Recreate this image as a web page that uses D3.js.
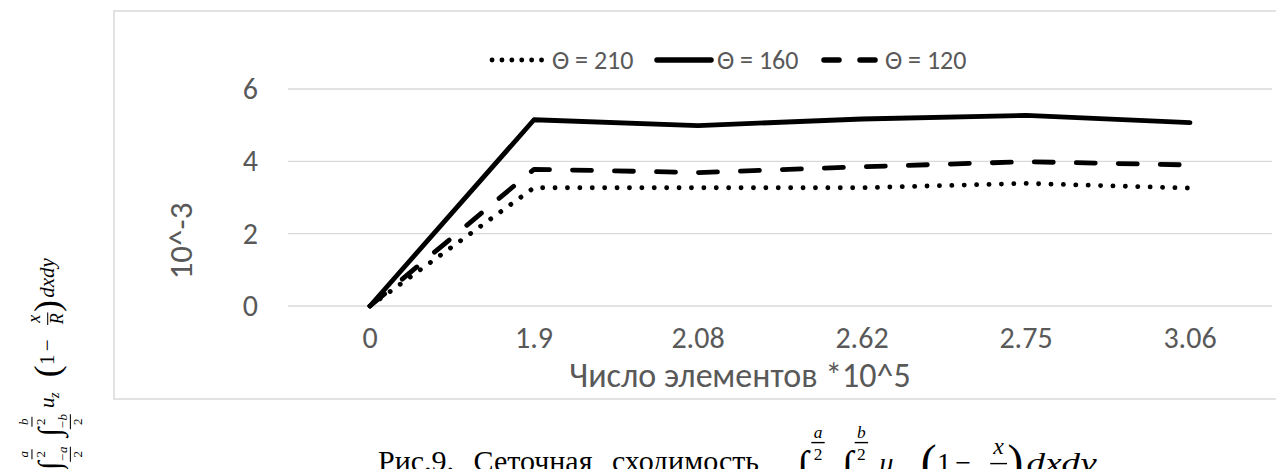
<!DOCTYPE html>
<html>
<head>
<meta charset="utf-8">
<script src="https://cdn.jsdelivr.net/npm/d3@7"></script>
<style>
  html, body { margin: 0; padding: 0; background: #fff; }
  svg { display: block; }
</style>
</head>
<body>
<svg id="chart" width="1276" height="469"></svg>
<script>
// Mesh size (number of elements, x10^5) used as category labels
const categories = ["0", "1.9", "2.08", "2.62", "2.75", "3.06"];
// Integral value (x10^-3) for each temperature
const theta210 = [0, 3.27, 3.27, 3.27, 3.39, 3.26];
const theta160 = [0, 5.15, 4.99, 5.17, 5.27, 5.07];
const theta120 = [0, 3.78, 3.69, 3.85, 3.99, 3.90];
const seriesNames = ["Θ = 210", "Θ = 160", "Θ = 120"];
const yTicks = [0, 2, 4, 6];

const svg = d3.select("#chart");
const sans = "Calibri, Carlito, 'Open Sans', 'Noto Sans', sans-serif";
const serif = "'Liberation Serif', 'Times New Roman', serif";
const textGrey = "#595959";
const gridGrey = "#d9d9d9";

// chart frame
svg.append("rect")
  .attr("x", 114).attr("y", 11)
  .attr("width", 1180).attr("height", 388)
  .attr("fill", "none").attr("stroke", gridGrey).attr("stroke-width", 1.5);

const x = d3.scaleBand().domain(categories).range([288, 1272]).padding(0);
const y = d3.scaleLinear().domain([0, 6]).range([306, 89]);
const cx = d => x(d) + x.bandwidth() / 2;

// horizontal gridlines
svg.append("g")
  .selectAll("line").data(yTicks).join("line")
  .attr("x1", 288).attr("x2", 1272)
  .attr("y1", d => y(d)).attr("y2", d => y(d))
  .attr("stroke", gridGrey).attr("stroke-width", 1.3);

// y axis tick labels
const yAxis = svg.append("g")
  .attr("transform", "translate(258,0)")
  .call(d3.axisLeft(y).tickValues(yTicks).tickFormat(d3.format("d")).tickSize(0).tickPadding(0));
yAxis.select(".domain").remove();
yAxis.selectAll("text")
  .attr("font-family", sans).attr("font-size", 30).attr("fill", textGrey);

// x axis tick labels
const xAxis = svg.append("g")
  .attr("transform", "translate(0,327)")
  .call(d3.axisBottom(x).tickSize(0).tickPadding(0));
xAxis.select(".domain").remove();
xAxis.selectAll("text")
  .attr("font-family", sans).attr("font-size", 30).attr("fill", textGrey);

// axis titles
svg.append("text")
  .attr("x", 740).attr("y", 387)
  .attr("text-anchor", "middle")
  .attr("font-family", sans).attr("font-size", 34).attr("fill", textGrey)
  .text("Число элементов *10^5");

svg.append("text")
  .attr("transform", "translate(192,241) rotate(-90)")
  .attr("text-anchor", "middle")
  .attr("font-family", sans).attr("font-size", 33).attr("fill", textGrey)
  .text("10^-3");

// series lines
const line = d3.line().x((d, i) => cx(categories[i])).y(d => y(d));
const styles = [
  { data: theta210, dash: "0.1 12.3", width: 4.8 },
  { data: theta160, dash: null, width: 4.8 },
  { data: theta120, dash: "19 23", width: 4.8 }
];
styles.forEach(s => {
  svg.append("path")
    .datum(s.data)
    .attr("d", line)
    .attr("fill", "none")
    .attr("stroke", "#000")
    .attr("stroke-width", s.width)
    .attr("stroke-linecap", "round")
    .attr("stroke-linejoin", "round")
    .attr("stroke-dasharray", s.dash);
});

// legend
const legendItems = [
  { name: seriesNames[0], x0: 492, x1: 543, text: 552, dash: "0.1 9.8", width: 4.8 },
  { name: seriesNames[1], x0: 657, x1: 711, text: 717, dash: null, width: 5.5 },
  { name: seriesNames[2], x0: 824, x1: 880, text: 885, dash: "15 21", width: 5.5 }
];
const legend = svg.append("g");
legendItems.forEach(it => {
  legend.append("line")
    .attr("x1", it.x0).attr("x2", it.x1)
    .attr("y1", 60).attr("y2", 60)
    .attr("stroke", "#000").attr("stroke-width", it.width)
    .attr("stroke-linecap", "round")
    .attr("stroke-dasharray", it.dash);
  legend.append("text")
    .attr("x", it.text).attr("y", 69)
    .attr("font-family", sans).attr("font-size", 26).attr("fill", textGrey)
    .text(it.name);
});

// integral expression, drawn in local units of s (baseline at y = 0)
function formula(g, s, tailLength) {
  const t = (x0, y0, str, size, opts = {}) => g.append("text")
    .attr("x", x0 * s).attr("y", y0 * s)
    .attr("font-family", serif)
    .attr("font-size", size * s)
    .attr("font-style", opts.italic ? "italic" : "normal")
    .attr("text-anchor", opts.anchor || "start")
    .attr("fill", "#000")
    .text(str);
  const bar = (xc, y0, w) => g.append("line")
    .attr("x1", (xc - w / 2) * s).attr("x2", (xc + w / 2) * s)
    .attr("y1", y0 * s).attr("y2", y0 * s)
    .attr("stroke", "#000").attr("stroke-width", Math.max(1, s * 0.05));
  const limits = (xc, v) => {
    t(xc, -1.23, v, 0.62, { italic: true, anchor: "middle" });
    bar(xc, -1.05, 0.48);
    t(xc, -0.42, "2", 0.62, { anchor: "middle" });
    t(xc, 0.62, "−" + v, 0.62, { italic: true, anchor: "middle" });
    bar(xc, 0.78, 0.72);
    t(xc, 1.35, "2", 0.62, { anchor: "middle" });
  };
  t(0, 0.28, "∫", 1.5);
  limits(0.75, "a");
  t(1.6, 0.28, "∫", 1.5);
  limits(2.3, "b");
  t(2.95, 0, "u", 1, { italic: true });
  t(3.42, 0.25, "z", 0.7, { italic: true });
  t(4.42, 0.22, "(", 1.7);
  t(5.0, 0, "1", 1);
  t(5.65, 0, "−", 1);
  t(7.2, -0.66, "x", 0.85, { italic: true, anchor: "middle" });
  bar(7.2, -0.3, 0.6);
  t(7.2, 0.45, "R", 0.85, { italic: true, anchor: "middle" });
  t(7.52, 0.22, ")", 1.7);
  const tail = t(8.2, 0, "dxdy", 1, { italic: true });
  if (tailLength) tail.attr("textLength", tailLength * s).attr("lengthAdjust", "spacingAndGlyphs");
}

// rotated copy on the left margin
formula(svg.append("g").attr("transform", "translate(54,470) rotate(-90)"), 21);

// figure caption
svg.append("text")
  .attr("x", 378).attr("y", 471)
  .attr("font-family", serif).attr("font-size", 30).attr("fill", "#000")
  .attr("word-spacing", 12)
  .text("Рис.9. Сеточная сходимость");
formula(svg.append("g").attr("transform", "translate(797,472)"), 28, 2.5);
</script>
</body>
</html>
